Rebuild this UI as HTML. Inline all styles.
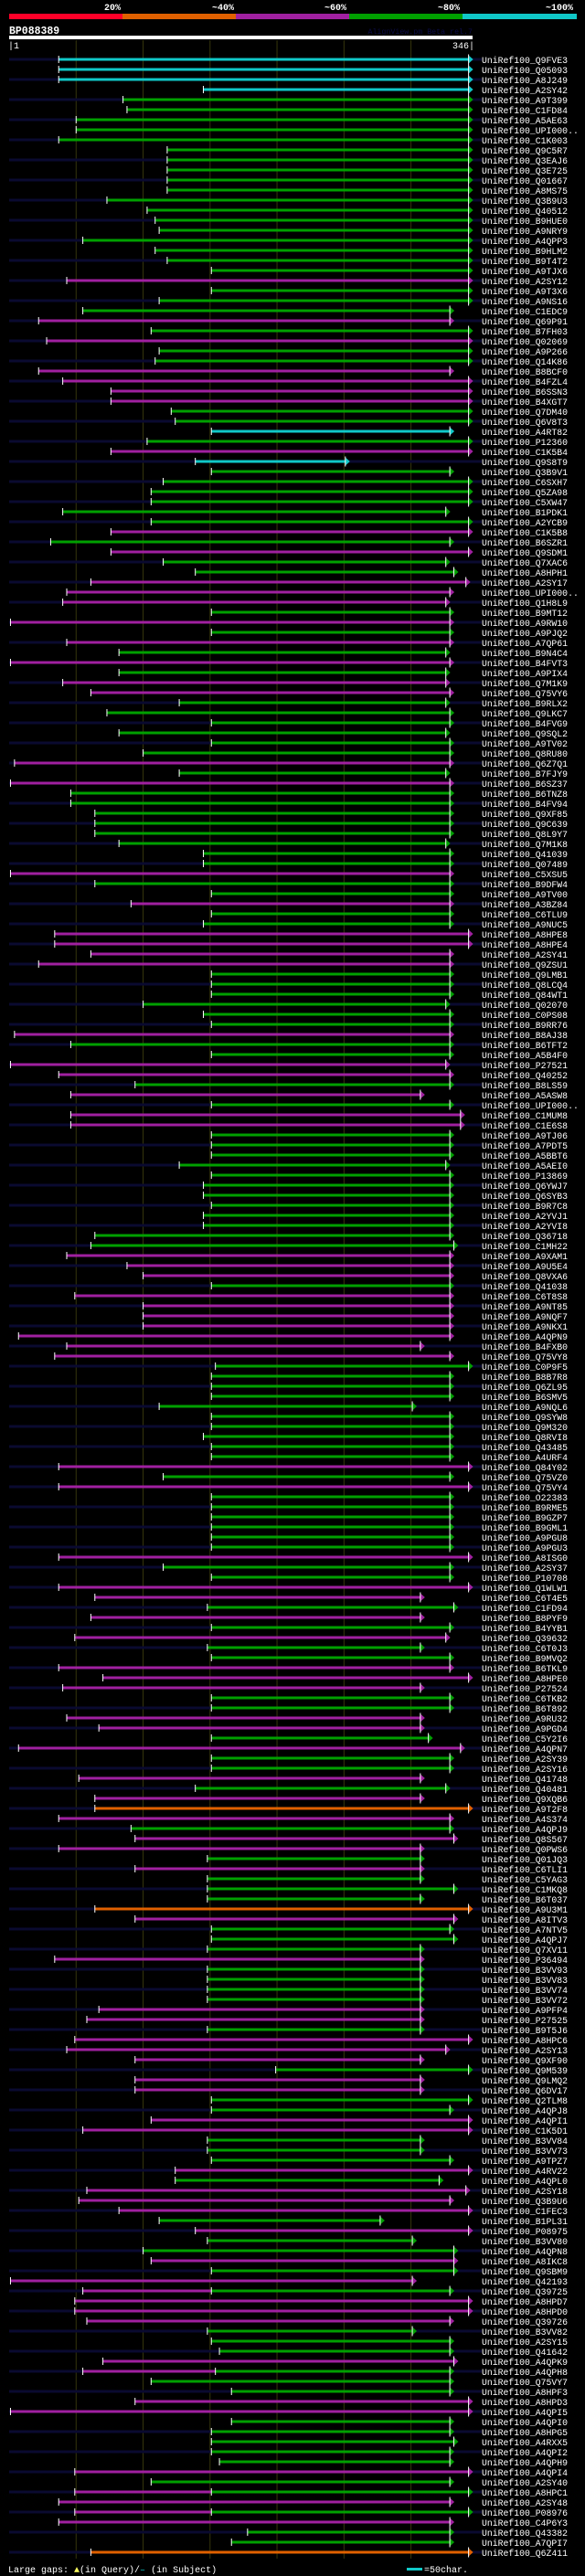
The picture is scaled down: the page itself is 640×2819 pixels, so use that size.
<!DOCTYPE html>
<html><head><meta charset="utf-8">
<style>
html,body{margin:0;padding:0;background:#000;}
svg{display:block;}
text{font-family:"Liberation Mono",monospace;}
</style></head>
<body>
<svg id="chart" width="640" height="2819" viewBox="0 0 640 2819" xmlns="http://www.w3.org/2000/svg">
  <rect x="0" y="0" width="640" height="2819" fill="#000"/>
  <g>
    <rect x="10" y="15" width="124" height="6" fill="#ff0028"/>
    <rect x="134" y="15" width="124" height="6" fill="#e06000"/>
    <rect x="258" y="15" width="124" height="6" fill="#a020a0"/>
    <rect x="382" y="15" width="124" height="6" fill="#00a000"/>
    <rect x="506" y="15" width="125" height="6" fill="#10c8c8"/>
    <g font-size="10" font-weight="bold" fill="#fff" text-anchor="middle">
      <text x="123" y="11">20%</text>
      <text x="244" y="11">~40%</text>
      <text x="367" y="11">~60%</text>
      <text x="491" y="11">~80%</text>
      <text x="612" y="11">~100%</text>
    </g>
  </g>
  <text x="10" y="37" font-size="11.5" font-weight="bold" fill="#fff">BP088389</text>
  <text x="517" y="37" font-size="8.3" fill="#0c0c48" text-anchor="end">AlignView.pm Beta rel.7</text>
  <rect x="10" y="39" width="507" height="4" fill="#fff"/>
  <text x="9" y="53" font-size="10" fill="#fff">|1</text>
  <text x="519" y="53" font-size="10" fill="#fff" text-anchor="end">346|</text>
  <g id="grid"></g>
  <g id="rows"></g>
  <g>
    <text x="9" y="2815" font-size="10" fill="#fff">Large gaps: <tspan fill="#ffff60">▲</tspan>(in Query)/<tspan fill="#10c8c8">–</tspan> (in Subject)</text>
    <rect x="445" y="2810" width="17" height="3" fill="#10c8c8"/>
    <text x="464" y="2815" font-size="10" fill="#fff">=50char.</text>
  </g>
</svg>
<script>
const names = ["Q9FVE3","Q05093","A8J249","A2SY42","A9T399","C1FD84","A5AE63","UPI000..","C1K003","Q9C5R7",
"Q3EAJ6","Q3E725","Q01667","A8MS75","Q3B9U3","Q40512","B9HUE0","A9NRY9","A4QPP3","B9HLM2",
"B9T4T2","A9TJX6","A2SY12","A9T3X6","A9NS16","C1EDC9","Q69P91","B7FH03","Q02069","A9P266",
"Q14K86","B8BCF0","B4FZL4","B6SSN3","B4XGT7","Q7DM40","Q6V8T3","A4RT82","P12360","C1K5B4",
"Q9S8T9","Q3B9V1","C6SXH7","Q5ZA98","C5XW47","B1PDK1","A2YCB9","C1K5B8","B6SZR1","Q9SDM1",
"Q7XAC6","A8HPH1","A2SY17","UPI000..","Q1H8L9","B9MT12","A9RW10","A9PJQ2","A7QP61","B9N4C4",
"B4FVT3","A9PIX4","Q7M1K9","Q75VY6","B9RLX2","Q9LKC7","B4FVG9","Q9SQL2","A9TV02","Q8RU80",
"Q6Z7Q1","B7FJY9","B6SZ37","B6TNZ8","B4FV94","Q9XF85","Q9C639","Q8L9Y7","Q7M1K8","Q41039",
"Q07489","C5XSU5","B9DFW4","A9TV00","A3BZ84","C6TLU9","A9NUC5","A8HPE8","A8HPE4","A2SY41",
"Q9ZSU1","Q9LMB1","Q8LCQ4","Q84WT1","Q02070","C0PS08","B9RR76","B8AJ38","B6TFT2","A5B4F0",
"P27521","Q40252","B8LS59","A5ASW8","UPI000..","C1MUM8","C1E6S8","A9TJ06","A7PDT5","A5BBT6",
"A5AEI0","P13869","Q6YWJ7","Q6SYB3","B9R7C8","A2YVJ1","A2YVI8","Q36718","C1MH22","A9XAM1",
"A9U5E4","Q8VXA6","Q41038","C6T8S8","A9NT85","A9NQF7","A9NKX1","A4QPN9","B4FXB0","Q75VY8",
"C0P9F5","B8B7R8","Q6ZL95","B6SMV5","A9NQL6","Q9SYW8","Q9M320","Q8RVI8","Q43485","A4URF4",
"Q84Y02","Q75VZ0","Q75VY4","O22383","B9RME5","B9GZP7","B9GML1","A9PGU8","A9PGU3","A8ISG0",
"A2SY37","P10708","Q1WLW1","C6T4E5","C1FD94","B8PYF9","B4YYB1","Q39632","C6T0J3","B9MVQ2",
"B6TKL9","A8HPE0","P27524","C6TKB2","B6T892","A9RU32","A9PGD4","C5Y2I6","A4QPN7","A2SY39",
"A2SY16","Q41748","Q40481","Q9XQB6","A9T2F8","A4S374","A4QPJ9","Q8S567","Q0PWS6","Q01JQ3",
"C6TLI1","C5YAG3","C1MKQ8","B6T037","A9U3M1","A8ITV3","A7NTV5","A4QPJ7","Q7XV11","P36494",
"B3VV93","B3VV83","B3VV74","B3VV72","A9PFP4","P27525","B9T5J6","A8HPC6","A2SY13","Q9XF90",
"Q9M539","Q9LMQ2","Q6DV17","Q2TLM8","A4QPJ8","A4QPI1","C1K5D1","B3VV84","B3VV73","A9TPZ7",
"A4RV22","A4QPL0","A2SY18","Q3B9U6","C1FEC3","B1PL31","P08975","B3VV80","A4QPN8","A8IKC8",
"Q9SBM9","Q42193","Q39725","A8HPD7","A8HPD0","Q39726","B3VV82","A2SY15","Q41642","A4QPK9",
"A4QPH8","Q75VY7","A8HPF3","A8HPD3","A4QPI5","A4QPI0","A8HPG5","A4RXX5","A4QPI2","A4QPH9",
"A4QPI4","A2SY40","A8HPC1","A2SY48","P08976","C4P6Y3","Q43382","A7QPI7","Q6Z411"];
const starts = [37,37,37,145,85,88,50,50,37,118,
118,118,118,118,73,103,109,112,55,109,
118,151,43,151,112,55,22,106,28,112,
109,22,40,76,76,121,124,151,103,76,
139,151,115,106,106,40,106,76,31,76,
115,139,61,43,40,151,1,151,43,82,
1,82,40,61,127,73,151,82,151,100,
4,127,1,46,46,64,64,64,82,145,
145,1,64,151,91,151,145,34,34,61,
22,151,151,151,100,145,151,4,46,151,
1,37,94,46,151,46,46,151,151,151,
127,151,145,145,151,145,145,64,61,43,
88,100,151,49,100,100,100,7,43,34,
154,151,151,151,112,151,151,145,151,151,
37,115,37,151,151,151,151,151,151,37,
115,151,37,64,148,61,151,49,148,151,
37,70,40,151,151,43,67,151,7,151,
151,52,139,64,64,37,91,94,37,148,
94,148,148,148,64,94,151,151,148,34,
148,148,148,148,67,58,148,49,43,94,
199,94,94,151,151,106,55,148,148,151,
124,124,58,52,82,112,139,148,100,106,
151,1,55,49,49,58,148,151,157,70,
55,106,166,94,1,166,151,151,151,157,
49,106,49,37,49,37,178,166,61];
const ends = [343,343,343,343,343,343,343,343,343,343,
343,343,343,343,343,343,343,343,343,343,
343,343,343,343,343,329,329,343,343,343,
343,329,343,343,343,343,343,329,343,343,
251,329,343,343,343,326,343,343,329,343,
326,332,341,329,326,329,329,329,329,326,
329,326,326,329,326,329,329,326,329,329,
329,326,329,329,329,329,329,329,326,329,
329,329,329,329,329,329,329,343,343,329,
329,329,329,329,326,329,329,329,329,329,
326,329,329,307,329,337,337,329,329,329,
326,329,329,329,329,329,329,329,332,329,
329,329,329,329,329,329,329,329,307,329,
343,329,329,329,301,329,329,329,329,329,
343,329,343,329,329,329,329,329,329,343,
329,329,343,307,332,307,329,326,307,329,
329,343,307,329,329,307,307,313,337,329,
329,307,326,307,343,329,329,332,307,307,
307,307,332,307,343,332,329,332,307,307,
307,307,307,307,307,307,307,343,326,307,
343,307,307,343,329,343,343,307,307,329,
343,321,341,329,343,277,343,301,332,332,
332,301,329,343,343,329,301,329,329,332,
329,329,329,343,343,329,329,332,329,329,
343,329,343,329,343,329,329,329,343];
const colorCodes = "ccccgggggg"+"gggggggggg"+"ggpgggpgpg"+"gppppggcgp"+"cggggggpgp"+"ggpppgpgpg"+"pgppgggggg"+"pgpggggggg"+"gpggpggppp"+"pggggggpgg"+
"ppgpgppggg"+"gggggggggp"+"ppgppppppp"+"gggggggggg"+"pgpggggggp"+"ggppgpgpgg"+"pppggppgpg"+"gpgpopgppg"+"pgggopgggp"+"ggggppgppp"+
"gppggppggg"+"pgpppgpggp"+"gpppppgggp"+"pggppggggg"+"pgppppggo";
const splitRows = [222,230,242,244];
const splitAt = [151,154,151,151];
const palette = {c:"#10c8c8", g:"#00a000", p:"#a020a0", o:"#e06000"};
const gridResidues = [50,100,150,200,250,300];

const NS = "http://www.w3.org/2000/svg";
const X0 = 10, PX = 507/346, Y0 = 65, PITCH = 11;
function xOf(r){ return X0 + r*PX; }
function yOf(i){ return Y0 + i*PITCH; }
function mk(tag, attrs, parent){
  const el = document.createElementNS(NS, tag);
  for (const k in attrs) el.setAttribute(k, attrs[k]);
  parent.appendChild(el);
  return el;
}
const grid = document.getElementById('grid');
gridResidues.forEach(function(r){
  const l = mk('line', {x1:xOf(r), x2:xOf(r), y1:44, y2:2800, stroke:"#36360c", 'stroke-width':1}, grid);
  
  
});
const rowsG = document.getElementById('rows');
names.forEach(function(nm, i){
  const y = yOf(i);
  const g = mk('g', {}, rowsG);
  
  
  if (i % 2 === 0) {
    const bg = mk('rect', {x:10, y:y-1.5, width:517, height:3, fill:"#0a0a30"}, g);
    
    
  }
  const xs = xOf(starts[i]), xe = xOf(ends[i]);
  const col = palette[colorCodes[i]];
  const si = splitRows.indexOf(i);
  if (si >= 0) {
    const xm = xOf(splitAt[si]);
    const a = mk('rect', {x:xs, y:y-1.5, width:xm-xs, height:3, fill:col}, g);
    
    
    const b = mk('rect', {x:xm, y:y-1.5, width:xe-xm, height:3, fill:palette.g}, g);
    
    
    const t = mk('rect', {x:xm-0.5, y:y-4, width:1, height:8, fill:"#fff"}, g);
    
    
  } else {
    const a = mk('rect', {x:xs, y:y-1.5, width:xe-xs, height:3, fill:col}, g);
    
    
  }
  const st = mk('rect', {x:xs-0.5, y:y-4, width:1, height:8, fill:"#fff"}, g);
  
  
  const endCol = si >= 0 ? palette.g : col;
  const ar = mk('polygon', {points:(xe)+","+(y-4.5)+" "+(xe+5)+","+y+" "+(xe)+","+(y+4.5), fill:endCol}, g);
  
  
  const et = mk('rect', {x:xe-0.5, y:y-5.5, width:1, height:11, fill:"#fff"}, g);
  
  
  const tx = mk('text', {x:527, y:y+4, 'font-size':9.8, fill:"#fff"}, g);
  tx.textContent = "UniRef100_" + nm;
  
  
});
</script>
</body></html>
